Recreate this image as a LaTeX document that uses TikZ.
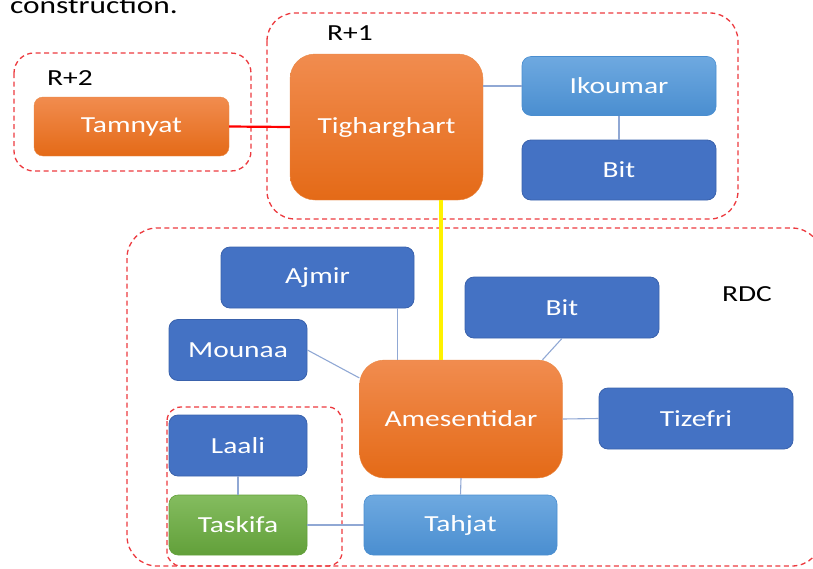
\documentclass[tikz,border=0pt]{standalone}
\usepackage{fontspec}
\setmainfont{Carlito}[FakeStretch=1.28]
\usepackage{tikz}

\definecolor{bleuf}{HTML}{4472C4}
\definecolor{bleufb}{HTML}{3A62AC}
\definecolor{cielh}{HTML}{6EA9E0}
\definecolor{cielb}{HTML}{4A8ED0}
\definecolor{orah}{HTML}{F18C4F}
\definecolor{orab}{HTML}{E46A17}
\definecolor{verth}{HTML}{84BC5F}
\definecolor{vertb}{HTML}{62A03A}
\definecolor{lienc}{HTML}{90A8D4}
\definecolor{cadrec}{HTML}{EC3A3F}

\tikzset{
  boite/.style={rounded corners=9pt, inner sep=0pt, text=white,
    font=\fontsize{23}{27}\selectfont, minimum width=194pt, minimum height=60pt},
  bleubox/.style={boite, fill=bleuf, draw=bleufb, line width=0.8pt},
  cielbox/.style={boite, top color=cielh, bottom color=cielb, draw=cielb, line width=0.6pt},
  orangebox/.style={boite, top color=orah, bottom color=orab, draw=orab!80!white, line width=0.4pt},
  vertbox/.style={boite, top color=verth, bottom color=vertb, draw=vertb, line width=0.6pt},
  cadre/.style={draw=cadrec, line width=1.3pt, dash pattern=on 5pt off 3.5pt},
  lien/.style={draw=lienc, line width=1.1pt},
  etiquette/.style={text=black, font=\fontsize{23}{27}\selectfont, inner sep=0pt}
}

\begin{document}
\begin{tikzpicture}[x=1pt,y=-1pt]
       \path[use as bounding box, clip] (0,0) rectangle (813,568);

       \node(Cons)[anchor=base west, inner sep=0pt, font=\fontsize{24.5}{29}\selectfont] at (10,13) {construction.};

       \draw[cadre, rounded corners=20pt] (14,53) rectangle (251,171);
       \draw[cadre, rounded corners=28pt] (267,13) rectangle (738,219);
       \draw[cadre, rounded corners=30pt] (127,228) rectangle (822,566);
       \draw[cadre, rounded corners=14pt] (167,407) rectangle (342,566);

       \node(R2)[etiquette] at (70,78) {R+2};
       \node(R1)[etiquette] at (350,33) {R+1};
       \node(RDC)[etiquette] at (747,294) {RDC};

       \node(Tam)[orangebox, minimum width=195pt, minimum height=59pt] at (131.5,126.5) {Tamnyat};
       \node(Tig)[orangebox, rounded corners=25pt, minimum width=193pt, minimum height=146pt] at (386.5,127) {Tigharghart};
       \node(Iko)[cielbox, minimum height=59pt] at (619,86) {Ikoumar};
       \node(Bit1)[bleubox] at (619,170) {Bit};

       \node(Ajm)[bleubox, minimum width=193pt, minimum height=61pt] at (317.5,277.5) {Ajmir};
       \node(Bit2)[bleubox, minimum height=61pt] at (562,307.5) {Bit};
       \node(Mou)[bleubox, minimum width=138pt, minimum height=61pt] at (238,350) {Mounaa};
       \node(Ame)[orangebox, rounded corners=25pt, minimum width=203pt, minimum height=118pt] at (461,419) {Amesentidar};
       \node(Tiz)[bleubox, minimum height=61pt] at (696,418.5) {Tizefri};
       \node(Laa)[bleubox, minimum width=138pt, minimum height=61pt] at (238,445.5) {Laali};
       \node(Tas)[vertbox, minimum width=138pt] at (238,525) {Taskifa};
       \node(Tah)[cielbox, minimum width=193pt] at (460.5,525) {Tahjat};

       \draw[draw=red, line width=2.2pt] (Tam.east) -- (Tig.west);
       \draw[lien] (Tig.east |- Iko.west) -- (Iko.west);
       \draw[lien] (Iko.south) -- (Bit1.north);
       \draw[draw=yellow, line width=4pt] (Ame.109.6) -- (Ame.109.6 |- Tig.south);

       \draw[lien] (Ame.137.8) -- (Ame.137.8 |- Ajm.south);
       \draw[lien] (Mou.east) -- (Ame.158);
       \draw[lien] (Bit2.south) -- (Ame.36.4);
       \draw[lien] (Ame.east) -- (Tiz.west);
       \draw[lien] (Ame.south) -- (Tah.north);
       \draw[lien] (Laa.south) -- (Tas.north);
       \draw[lien] (Tas.east) -- (Tah.west);

\end{tikzpicture}
\end{document}
